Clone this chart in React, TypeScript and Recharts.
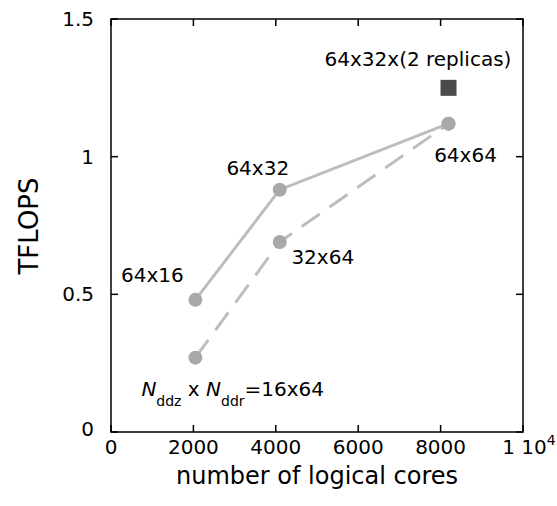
import { ComposedChart, Line, Scatter, XAxis, YAxis, LabelList, ReferenceArea } from "recharts";

// number of logical cores for each decomposition
const cores = [2048, 4096, 8192];
// Nddz = 64 fixed, Nddr = 16, 32, 64
const tflopsSolid = [0.48, 0.88, 1.12];
const solidNames = ["64x16", "64x32", "64x64"];
// Nddr = 64 fixed, Nddz = 16, 32, 64
const tflopsDashed = [0.27, 0.69, 1.12];
const dashedNames = ["16x64", "32x64", ""];
// two replicas run side by side
const replicaCores = [8192];
const replicaTflops = [1.25];
const replicaNames = ["64x32x(2 replicas)"];

const xTicks = [0, 2000, 4000, 6000, 8000, 10000];
const yTicks = [0, 0.5, 1, 1.5];
const xDomain = [0, 10000];
const yDomain = [0, 1.5];

const solidData = cores.map((c, i) => ({ x: c, y: tflopsSolid[i], name: solidNames[i] }));
const dashedData = cores.map((c, i) => ({ x: c, y: tflopsDashed[i], name: dashedNames[i] }));
const replicaData = replicaCores.map((c, i) => ({ x: c, y: replicaTflops[i], name: replicaNames[i] }));

const FONT = "'DejaVu Sans', sans-serif";
const TICK = 7;
const FS = 20;
const MARGIN = { top: 19, right: 34, bottom: 73, left: 110 };
const W = 557;
const H = 506;
// plot box size (axes are 1px thick)
const PLOT_W = W - MARGIN.left - MARGIN.right - 1;
const PLOT_H = H - MARGIN.top - MARGIN.bottom - 1;

// label placement relative to each mark
const solidOffsets = [
  { dx: -43, dy: -18, anchor: "middle" },
  { dx: -22, dy: -15, anchor: "middle" },
  { dx: 17, dy: 38, anchor: "middle" },
];
const dashedOffsets = [
  { dx: -54, dy: 38, anchor: "start" },
  { dx: 43, dy: 22, anchor: "middle" },
];

// inward tick on the bottom and top edge, plus the label below
const BottomTick = (p: any) => {
  const v = p.payload.value;
  const y = p.y;
  const top = y - PLOT_H;
  return (
    <g>
      <line x1={p.x} x2={p.x} y1={y} y2={y - TICK} stroke="#000" strokeWidth={1.5} />
      <line x1={p.x} x2={p.x} y1={top} y2={top + TICK} stroke="#000" strokeWidth={1.5} />
      {v === 10000 ? (
        <text x={p.x + 6} y={y + 22} textAnchor="middle" fontSize={FS} fontFamily={FONT} fill="#000">
          1 10<tspan dy={-9} fontSize={14}>4</tspan>
        </text>
      ) : (
        <text x={p.x} y={y + 22} textAnchor="middle" fontSize={FS} fontFamily={FONT} fill="#000">
          {v}
        </text>
      )}
    </g>
  );
};

// inward tick on the left and right edge, plus the label
const LeftTick = (p: any) => {
  const right = p.x + PLOT_W;
  return (
    <g>
      <line x1={p.x} x2={p.x + TICK} y1={p.y} y2={p.y} stroke="#000" strokeWidth={1.5} />
      <line x1={right} x2={right - TICK} y1={p.y} y2={p.y} stroke="#000" strokeWidth={1.5} />
      <text
        x={p.x - 17}
        y={p.y + (p.payload.value === 0 ? 4 : 7)}
        textAnchor="end"
        fontSize={FS}
        fontFamily={FONT}
        fill="#000"
      >
        {p.payload.value}
      </text>
    </g>
  );
};

const makeLabel = (offsets: any[]) => (p: any) => {
  const o = offsets[p.index];
  if (!o || !p.value) return null;
  return (
    <text x={p.x + o.dx} y={p.y + o.dy} textAnchor={o.anchor} fontSize={FS} fontFamily={FONT} fill="#000">
      {p.value}
    </text>
  );
};

const DashedLabel = (p: any) => {
  const o = dashedOffsets[p.index];
  if (!o || !p.value) return null;
  if (p.index === 0) {
    return (
      <text x={p.x + o.dx} y={p.y + o.dy} fontSize={FS} fontFamily={FONT} fill="#000">
        <tspan fontStyle="italic">N</tspan>
        <tspan dy={10} fontSize={14}>ddz</tspan>
        <tspan dy={-10}> x </tspan>
        <tspan fontStyle="italic">N</tspan>
        <tspan dy={10} fontSize={14}>ddr</tspan>
        <tspan dy={-10}>={p.value}</tspan>
      </text>
    );
  }
  return makeLabel(dashedOffsets)(p);
};

const Square = (p: any) => <rect x={p.cx - 8} y={p.cy - 8} width={16} height={16} fill="#4a4a4a" />;

const ReplicaLabel = (p: any) => (
  <text x={p.x - 26} y={p.y - 17} textAnchor="middle" fontSize={FS} fontFamily={FONT} fill="#000">
    {p.value}
  </text>
);

export default function App() {
  return (
    <div style={{ position: "absolute", left: 0, top: 0, width: W, height: H, background: "#fff" }}>
      <ComposedChart width={W} height={H} margin={MARGIN}>
        <XAxis
          dataKey="x"
          type="number"
          domain={xDomain}
          ticks={xTicks}
          height={1}
          tickSize={0}
          tickMargin={0}
          tickLine={false}
          tick={<BottomTick />}
          axisLine={false}
        />
        <YAxis
          type="number"
          domain={yDomain}
          ticks={yTicks}
          width={1}
          tickSize={0}
          tickMargin={0}
          tickLine={false}
          tick={<LeftTick />}
          axisLine={false}
        />
        <ReferenceArea
          x1={xDomain[0]}
          x2={xDomain[1]}
          y1={yDomain[0]}
          y2={yDomain[1]}
          fill="none"
          fillOpacity={0}
          stroke="#000"
          strokeWidth={1.5}
        />
        <Line
          data={dashedData}
          dataKey="y"
          stroke="#bdbdbd"
          strokeWidth={3}
          strokeDasharray="22 12"
          dot={{ r: 7, fill: "#a9a9a9", stroke: "none" }}
          isAnimationActive={false}
        >
          <LabelList dataKey="name" content={<DashedLabel />} />
        </Line>
        <Line
          data={solidData}
          dataKey="y"
          stroke="#bdbdbd"
          strokeWidth={3}
          dot={{ r: 7, fill: "#a9a9a9", stroke: "none" }}
          isAnimationActive={false}
        >
          <LabelList dataKey="name" content={makeLabel(solidOffsets)} />
        </Line>
        <Scatter data={replicaData} dataKey="y" shape={<Square />} isAnimationActive={false}>
          <LabelList dataKey="name" content={<ReplicaLabel />} />
        </Scatter>
        <text x={317} y={484} textAnchor="middle" fontSize={24} fontFamily={FONT} fill="#000">
          number of logical cores
        </text>
        <text
          x={38}
          y={226}
          transform="rotate(-90 38 226)"
          textAnchor="middle"
          fontSize={26}
          fontFamily={FONT}
          fill="#000"
        >
          TFLOPS
        </text>
      </ComposedChart>
    </div>
  );
}
